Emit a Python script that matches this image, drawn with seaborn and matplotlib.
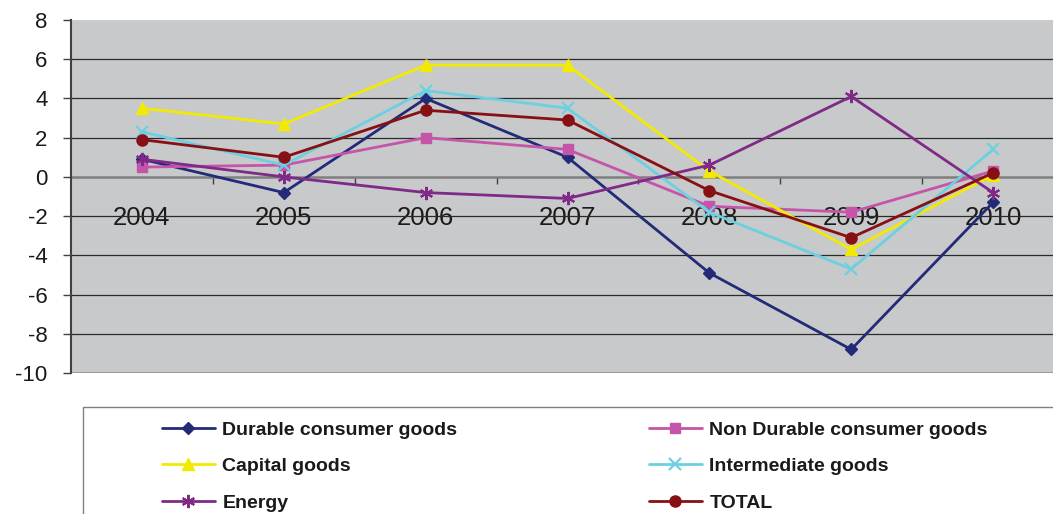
import matplotlib
matplotlib.use("Agg")
import matplotlib.pyplot as plt
import matplotlib.patches as mpatches
import seaborn as sns
import numpy as np

years = ["2004", "2005", "2006", "2007", "2008", "2009", "2010"]
durable = [0.9, -0.8, 4.0, 1.0, -4.9, -8.8, -1.3]
non_durable = [0.5, 0.6, 2.0, 1.4, -1.5, -1.8, 0.3]
capital = [3.5, 2.7, 5.7, 5.7, 0.3, -3.7, 0.1]
intermediate = [2.3, 0.6, 4.4, 3.5, -1.8, -4.7, 1.4]
energy = [0.9, 0.0, -0.8, -1.1, 0.6, 4.1, -0.8]
total = [1.9, 1.0, 3.4, 2.9, -0.7, -3.1, 0.2]

series = [
    ("Durable consumer goods", durable, "#232a78", "D", 6.5, 1.0),
    ("Non Durable consumer goods", non_durable, "#c455a8", "s", 7.5, 1.0),
    ("Capital goods", capital, "#f2ea00", "^", 8.5, 1.0),
    ("Intermediate goods", intermediate, "#6cd0e0", "x", 8, 1.6),
    ("Energy", energy, "#7e2a86", (6, 2, 0), 9.5, 1.5),
    ("TOTAL", total, "#861014", "o", 8, 1.0),
]

sns.set_theme(style="white")
plt.rcParams["font.family"] = ["Liberation Sans", "DejaVu Sans"]
plt.rcParams["axes.unicode_minus"] = False

W, H = 1053, 514
fig = plt.figure(figsize=(W / 100, H / 100), dpi=100)
ax = fig.add_axes([71 / W, (H - 373) / H, (1064 - 71) / W, (373 - 20) / H])
ax.set_facecolor("#c8c9cb")

xpos = np.arange(len(years))
handles = []
for name, vals, col, mk, ms, mew in series:
    sns.lineplot(x=xpos, y=vals, color=col, marker=mk, markersize=ms,
                 markeredgewidth=mew, markeredgecolor=col, markerfacecolor=col,
                 linewidth=2.0, ax=ax, legend=False, zorder=3)
    handles.append(ax.lines[-1])

ax.set_xlim(-0.5, 6.5)
ax.set_ylim(-10, 8)
ax.set_yticks(np.arange(-10, 9, 2))
for v in range(-8, 8, 2):
    if v != 0:
        ax.axhline(v, color="#2a2a2a", lw=0.9, zorder=1)
ax.axhline(-10, color="#8c8c8c", lw=1.8, zorder=2)

for s in ["right", "top"]:
    ax.spines[s].set_visible(False)
ax.axhline(8, color="#d0d0d0", lw=1.2, zorder=1)
ax.spines["left"].set_color("#404040")
ax.spines["left"].set_linewidth(1.5)
ax.spines["bottom"].set_position(("data", 0))
ax.spines["bottom"].set_color("#7f7f7f")
ax.spines["bottom"].set_linewidth(1.8)
ax.spines["bottom"].set_zorder(2)

ax.set_xticks(xpos)
ax.set_xticklabels(years)
ax.set_xticks(np.arange(0.5, 6.5, 1), minor=True)
ax.tick_params(axis="x", which="major", length=0, pad=21, labelsize=18.5, labelcolor="#1a1a1a")
ax.tick_params(axis="x", which="minor", direction="out", length=5, width=1, color="#404040", bottom=True)
ax.tick_params(axis="y", direction="out", length=6, width=1, color="#404040", left=True,
               pad=11, labelsize=16, labelcolor="#1a1a1a")
ax.set_xlabel("")
ax.set_ylabel("")

# legend box
rect = mpatches.Rectangle((83 / W, -0.1), 1.2, (H - 407) / H + 0.1,
                          transform=fig.transFigure, facecolor="white",
                          edgecolor="#808080", lw=1.0, zorder=0)
fig.add_artist(rect)

leg_kw = dict(frameon=False, loc="upper left", borderpad=0, borderaxespad=0,
              handlelength=2.7, handletextpad=0.4, labelspacing=0.98, numpoints=1,
              prop={"weight": "bold", "size": 14})
labels = [s[0] for s in series]
l1 = fig.legend([handles[0], handles[2], handles[4]], [labels[0], labels[2], labels[4]],
                bbox_to_anchor=(162 / W, 1 - 421 / H), **leg_kw)
l2 = fig.legend([handles[1], handles[3], handles[5]], [labels[1], labels[3], labels[5]],
                bbox_to_anchor=(649 / W, 1 - 421 / H), **leg_kw)
for l in (l1, l2):
    for t in l.get_texts():
        t.set_color("#1a1a1a")

fig.savefig("out.png", dpi=100)
